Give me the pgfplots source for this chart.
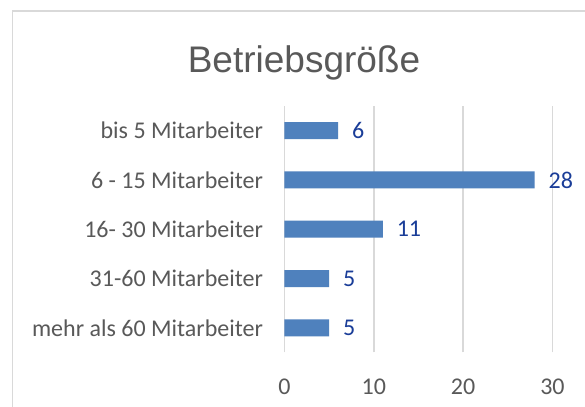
\documentclass[border=0pt]{standalone}
\usepackage{pgfplots}
\pgfplotsset{compat=1.18}
\usepackage{fontspec}
\setmainfont{Carlito}
\newfontfamily\titlefont{Liberation Sans}
\definecolor{barblue}{HTML}{4F81BD}
\definecolor{lblblue}{HTML}{1A3D98}
\definecolor{txtgray}{HTML}{595959}
\definecolor{gridgray}{HTML}{D9D9D9}
\begin{document}
\begin{tikzpicture}
\useasboundingbox (0,0) rectangle (292.5pt,203.5pt);
\fill[white] (0,0) rectangle (292.5pt,203.5pt);
\draw[gridgray, line width=0.7pt] (6.35pt,-5pt) -- (6.35pt,198pt) -- (300pt,198pt);
\node[anchor=base, text=txtgray, font=\titlefont\fontsize{18.5}{22}\selectfont] at (152pt,167pt) {Betriebsgröße};
\begin{axis}[
  at={(142.25pt,27.25pt)}, anchor=south west,
  scale only axis, width=134pt, height=123.25pt,
  xbar, bar width=8.5pt,
  xmin=0, xmax=30, ymin=-0.5, ymax=4.5,
  xtick={0,10,20,30},
  ytick={0,1,2,3,4},
  yticklabels={mehr als 60 Mitarbeiter,31-60 Mitarbeiter,16- 30 Mitarbeiter,6 - 15 Mitarbeiter,bis 5 Mitarbeiter},
  axis line style={draw=none},
  major tick length=0pt,
  xmajorgrids, grid style={gridgray, line width=0.7pt},
  font=\fontsize{12}{14}\selectfont,
  tick label style={text=txtgray},
  /pgf/number format/assume math mode=true,
  xticklabel style={yshift=-9.5pt},
  yticklabel style={xshift=-7.25pt},
  nodes near coords,
  nodes near coords style={text=lblblue, xshift=3.5pt, font=\fontsize{12}{14}\selectfont, /pgf/number format/assume math mode=true},
]
\addplot[fill=barblue, draw=none] coordinates {(5,0) (5,1) (11,2) (28,3) (6,4)};
\end{axis}
\end{tikzpicture}
\end{document}
